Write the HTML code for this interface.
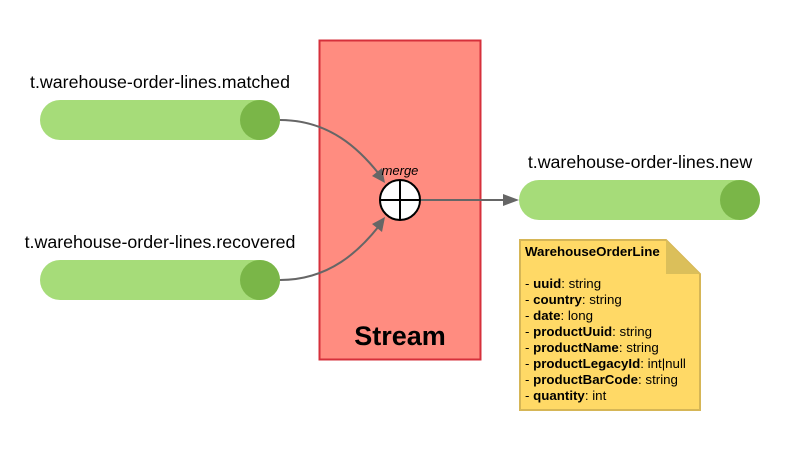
<!DOCTYPE html>
<html><head><style>body{margin:0;background:#fff}</style></head><body>
<svg width="800" height="450" viewBox="0 0 800 450" xmlns="http://www.w3.org/2000/svg" font-family="Liberation Sans, sans-serif">
<rect x="319.5" y="40.5" width="161" height="319" fill="#ff8c80" stroke="#d6303b" stroke-width="2"/>
<text x="400" y="345" font-size="27" font-weight="bold" text-anchor="middle">Stream</text>
<g>
<rect x="40" y="100" width="240" height="40" rx="20" fill="#a6dc79"/>
<circle cx="260" cy="120" r="20" fill="#7ab648"/>
<rect x="40" y="260" width="240" height="40" rx="20" fill="#a6dc79"/>
<circle cx="260" cy="280" r="20" fill="#7ab648"/>
<rect x="519" y="180" width="241" height="40" rx="20" fill="#a6dc79"/>
<circle cx="740" cy="200" r="20" fill="#7ab648"/>
</g>
<text x="160" y="88" font-size="17.8" text-anchor="middle">t.warehouse-order-lines.matched</text>
<text x="160" y="248" font-size="17.8" text-anchor="middle">t.warehouse-order-lines.recovered</text>
<text x="640" y="168" font-size="17.8" text-anchor="middle">t.warehouse-order-lines.new</text>
<g stroke="#666" stroke-width="2" fill="none">
<path d="M280 120 C330 120 360 150 379 174"/>
<path d="M280 280 C330 280 360 250 379 226"/>
<path d="M420 200 L505 200"/>
</g>
<g fill="#666">
<polygon points="385,183 372,176 382,168"/>
<polygon points="385,217 372,224 382,232"/>
<polygon points="519,200 503,194 503,206"/>
</g>
<circle cx="400" cy="200" r="20" fill="#fff" stroke="#000" stroke-width="2"/>
<path d="M380 200 H420 M400 180 V220" stroke="#000" stroke-width="2"/>
<text x="400" y="175" font-size="13" font-style="italic" text-anchor="middle">merge</text>
<path d="M520 240 H666 L700 274 V410 H520 Z" fill="#ffd966" stroke="#d6b656" stroke-width="2"/>
<path d="M666 240 V274 H700 Z" fill="#dbbf5a"/>
<g font-size="13.3">
<text x="525" y="256" font-weight="bold">WarehouseOrderLine</text>
<text x="525" y="288">- <tspan font-weight="bold">uuid</tspan>: string</text>
<text x="525" y="304">- <tspan font-weight="bold">country</tspan>: string</text>
<text x="525" y="320">- <tspan font-weight="bold">date</tspan>: long</text>
<text x="525" y="336">- <tspan font-weight="bold">productUuid</tspan>: string</text>
<text x="525" y="352">- <tspan font-weight="bold">productName</tspan>: string</text>
<text x="525" y="368">- <tspan font-weight="bold">productLegacyId</tspan>: int|null</text>
<text x="525" y="384">- <tspan font-weight="bold">productBarCode</tspan>: string</text>
<text x="525" y="400">- <tspan font-weight="bold">quantity</tspan>: int</text>
</g>
</svg>
</body></html>
